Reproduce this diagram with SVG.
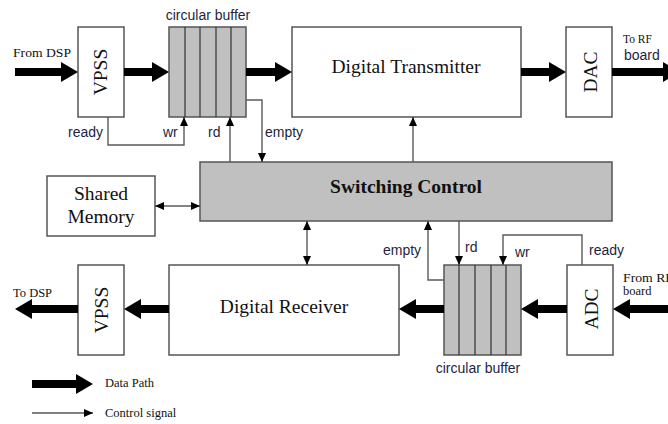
<svg xmlns="http://www.w3.org/2000/svg" width="668" height="424" viewBox="0 0 668 424">
  <style>
    .box { fill: #ffffff; stroke: #555555; stroke-width: 1.5; }
    .grey { fill: #c0c0c0; stroke: #555555; stroke-width: 1.5; }
    .cell { stroke: #333333; stroke-width: 1.2; }
    .data { stroke: #000000; stroke-width: 8; fill: none; marker-end: url(#bigHead); }
    .ctl { stroke: #5a5a5a; stroke-width: 1.4; fill: none; }
    .end { marker-end: url(#smallHead); }
    .both { marker-start: url(#smallHead); marker-end: url(#smallHead); }
    .big { font-family: "Liberation Serif", "Times New Roman", serif; font-size: 19.5px; fill: #111111; }
    .bold { font-weight: bold; }
    .small { font-family: "Liberation Serif", "Times New Roman", serif; font-size: 12.5px; fill: #111111; }
    .lbl { font-family: "Liberation Sans", Arial, sans-serif; font-size: 14px; fill: #1f1f3f; }
  </style>
  <defs>
    <marker id="bigHead" markerUnits="userSpaceOnUse" markerWidth="18" markerHeight="21" refX="5" refY="10" orient="auto">
      <path d="M0,0 L17,10 L0,20 z" fill="#000000"/>
    </marker>
    <marker id="smallHead" markerUnits="userSpaceOnUse" markerWidth="10" markerHeight="9" refX="9" refY="4" orient="auto-start-reverse">
      <path d="M0,0 L9,4 L0,8 z" fill="#000000"/>
    </marker>
  </defs>

  <!-- transmit chain -->
  <g id="vpss-tx">
    <rect class="box" x="78" y="27" width="46" height="90"/>
    <text class="big" transform="translate(107,72) rotate(-90)" text-anchor="middle">VPSS</text>
  </g>
  <g id="buffer-tx">
    <rect class="grey" x="169" y="27" width="77" height="90"/>
    <path class="cell" d="M185,27V117M200,27V117M216,27V117M231,27V117"/>
    <text class="lbl" x="208" y="20" text-anchor="middle">circular buffer</text>
  </g>
  <g id="transmitter">
    <rect class="box" x="292" y="27" width="229" height="90"/>
    <text class="big" x="406" y="73" text-anchor="middle">Digital Transmitter</text>
  </g>
  <g id="dac">
    <rect class="box" x="566" y="27" width="46" height="90"/>
    <text class="big" transform="translate(597,72) rotate(-90)" text-anchor="middle">DAC</text>
  </g>

  <!-- control -->
  <g id="shared-memory">
    <rect class="box" x="47" y="176" width="108" height="60"/>
    <text class="big" x="101" y="200" text-anchor="middle">Shared</text>
    <text class="big" x="101" y="223" text-anchor="middle">Memory</text>
  </g>
  <g id="switching-control">
    <rect class="grey" x="200" y="162" width="412" height="59"/>
    <text class="big bold" x="406" y="193" text-anchor="middle">Switching Control</text>
  </g>

  <!-- receive chain -->
  <g id="vpss-rx">
    <rect class="box" x="78" y="265" width="46" height="90"/>
    <text class="big" transform="translate(108,310) rotate(-90)" text-anchor="middle">VPSS</text>
  </g>
  <g id="receiver">
    <rect class="box" x="169" y="265" width="230" height="90"/>
    <text class="big" x="284" y="313" text-anchor="middle">Digital Receiver</text>
  </g>
  <g id="buffer-rx">
    <rect class="grey" x="444" y="265" width="77" height="90"/>
    <path class="cell" d="M459,265V355M475,265V355M491,265V355M506,265V355"/>
    <text class="lbl" x="478" y="373" text-anchor="middle">circular buffer</text>
  </g>
  <g id="adc">
    <rect class="box" x="567" y="265" width="46" height="90"/>
    <text class="big" transform="translate(598,309) rotate(-90)" text-anchor="middle">ADC</text>
  </g>

  <g id="connectors">
    <!-- data paths -->
    <line class="data" x1="15" y1="72" x2="66" y2="72"/>
    <line class="data" x1="124" y1="72" x2="157" y2="72"/>
    <line class="data" x1="246" y1="72" x2="280" y2="72"/>
    <line class="data" x1="521" y1="72" x2="554" y2="72"/>
    <line class="data" x1="612" y1="72" x2="668" y2="72"/>
    <line class="data" x1="668" y1="309" x2="625" y2="309"/>
    <line class="data" x1="567" y1="309" x2="533" y2="309"/>
    <line class="data" x1="444" y1="309" x2="411" y2="309"/>
    <line class="data" x1="169" y1="309" x2="136" y2="309"/>
    <line class="data" x1="78" y1="309" x2="27" y2="309"/>

    <!-- control signals, transmit side -->
    <path class="ctl end" d="M108,117V145H184V117"/>
    <path class="ctl end" d="M230,162V117"/>
    <path class="ctl end" d="M246,100H262V162"/>
    <path class="ctl end" d="M413,162V117"/>
    <path class="ctl both" d="M155,206H200"/>
    <path class="ctl both" d="M307,221V265"/>

    <!-- control signals, receive side -->
    <path class="ctl end" d="M444,280H428V221"/>
    <path class="ctl end" d="M459,221V265"/>
    <path class="ctl end" d="M582,265V235H503V265"/>

    <!-- legend -->
    <line class="data" x1="32" y1="384" x2="81" y2="384"/>
    <path class="ctl end" d="M32,413H93" style="stroke:#000000;stroke-width:1.2"/>
  </g>

  <!-- signal and port labels -->
  <text class="small" x="13" y="57" textLength="58" lengthAdjust="spacingAndGlyphs">From DSP</text>
  <text class="small" x="623" y="43" style="font-size:11.5px">To RF</text>
  <text class="lbl" x="624" y="60">board</text>
  <text class="small" x="13" y="297">To DSP</text>
  <text class="small" x="623" y="282" textLength="50" lengthAdjust="spacingAndGlyphs">From RF</text>
  <text class="small" x="623" y="295">board</text>
  <text class="lbl" x="68" y="137">ready</text>
  <text class="lbl" x="163" y="137">wr</text>
  <text class="lbl" x="208" y="137">rd</text>
  <text class="lbl" x="265" y="137">empty</text>
  <text class="lbl" x="383" y="255">empty</text>
  <text class="lbl" x="465" y="252">rd</text>
  <text class="lbl" x="515" y="257">wr</text>
  <text class="lbl" x="589" y="255">ready</text>
  <text class="small" x="105" y="387">Data Path</text>
  <text class="small" x="105" y="417">Control signal</text>
</svg>
